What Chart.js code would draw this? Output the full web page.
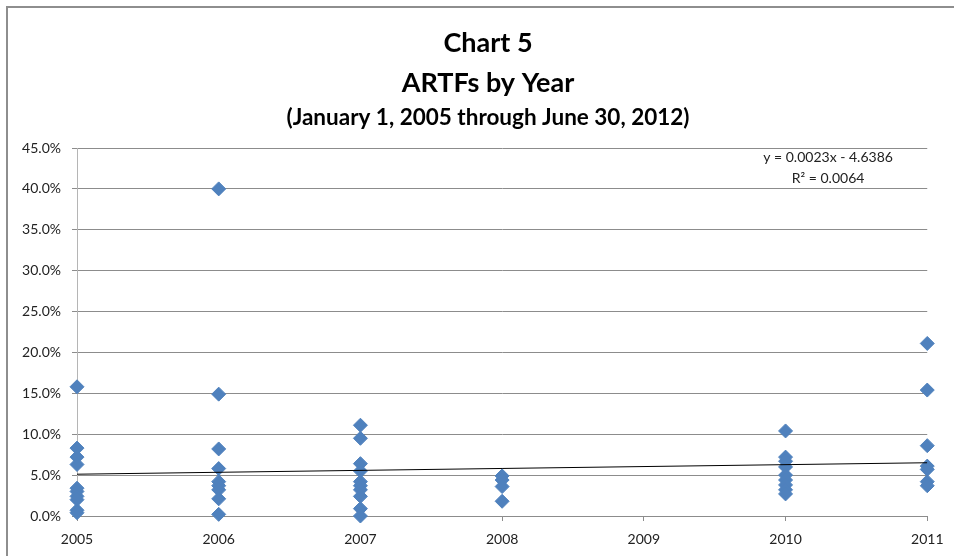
<!DOCTYPE html>
<html>
<head>
<meta charset="utf-8">
<title>Chart 5 - ARTFs by Year</title>
<script src="https://cdn.jsdelivr.net/npm/chart.js@4.4.1/dist/chart.umd.min.js"></script>
<style>
  html, body { margin: 0; padding: 0; background: #fff; overflow: hidden; }
  #frame { position: absolute; left: 6px; top: 6px; width: 1000px; height: 600px; border: 2px solid #8e8e8e; }
  #stock_chart { position: absolute; left: 0; top: 0; }
</style>
</head>
<body>
<div id="frame"></div>
<canvas id="stock_chart" width="954" height="556"></canvas>
<script>
// chart data (percent)
const years = [2005, 2006, 2007, 2008, 2009, 2010, 2011];
const artf2005 = [15.8, 8.3, 7.2, 6.3, 3.4, 3.0, 2.4, 2.0, 0.7, 0.4];
const artf2006 = [40.0, 14.9, 8.2, 5.8, 4.2, 3.7, 3.2, 2.1, 0.2];
const artf2007 = [11.1, 9.5, 6.4, 5.5, 4.2, 3.7, 3.2, 2.4, 0.9, 0.0];
const artf2008 = [4.9, 4.4, 3.6, 1.8];
const artf2009 = [];
const artf2010 = [10.4, 7.2, 6.7, 6.0, 5.0, 4.4, 3.8, 3.2, 2.7];
const artf2011 = [21.1, 15.4, 8.6, 6.1, 5.7, 4.2, 3.7];
const yTicks = [0, 5, 10, 15, 20, 25, 30, 35, 40, 45];

// excel linear trendline (x = year, y = fraction)
const trendSlope = 0.002339;
const trendIntercept = -4.6386;
const trendLabel = ['y = 0.0023x - 4.6386', 'R\u00b2 = 0.0064'];

const artfByYear = [artf2005, artf2006, artf2007, artf2008, artf2009, artf2010, artf2011];
const points = years.flatMap((yr, i) => artfByYear[i].map((v) => ({ x: yr, y: v })));
const trend = [years[0], years[years.length - 1]].map((yr) => ({ x: yr, y: (trendSlope * yr + trendIntercept) * 100 }));

const FONT = 'Lato, "Liberation Sans", sans-serif';
const BLUE = '#4f81bd';
const GRID = '#8c8c8c';

// draws the trendline equation like excel does
const trendText = {
    id: 'trendText',
    afterDatasetsDraw(chart) {
        const { ctx, scales: { x, y } } = chart;
        ctx.save();
        ctx.font = '14px ' + FONT;
        ctx.fillStyle = '#222';
        ctx.textAlign = 'center';
        ctx.textBaseline = 'middle';
        const cx = x.getPixelForValue(2010.3);
        ctx.fillText(trendLabel[0], cx, y.getPixelForValue(43.9));
        ctx.fillText(trendLabel[1], cx, y.getPixelForValue(41.3));
        ctx.restore();
    }
};

// excel centres the titles a bit right of the canvas middle
const titleShift = {
    id: 'titleShift',
    afterLayout(chart) {
        const TitleEl = Chart.Title && Chart.Title._element;
        if (!TitleEl) return;
        chart.boxes.filter((b) => b instanceof TitleEl).forEach((b) => {
            b.left += 6;
            b.right += 6;
        });
    }
};

new Chart(document.getElementById('stock_chart').getContext('2d'), {
    type: 'scatter',
    data: {
        datasets: [{
            label: 'Linear (ARTFs)',
            data: trend,
            showLine: true,
            borderColor: '#000',
            borderWidth: 1,
            pointRadius: 0
        }, {
            label: 'ARTFs',
            data: points,
            clip: false,
            pointStyle: 'rectRot',
            pointRadius: 7,
            backgroundColor: BLUE,
            borderColor: BLUE,
            borderWidth: 1
        }]
    },
    options: {
        responsive: false,
        animation: false,
        events: [],
        layout: { padding: { left: 14, right: 4, top: 23, bottom: 0 } },
        plugins: {
            legend: { display: false },
            tooltip: { enabled: false },
            title: {
                display: true,
                text: ['Chart 5', 'ARTFs by Year'],
                color: '#000',
                font: { family: FONT, size: 27, weight: 'bold', lineHeight: 40 / 27 },
                padding: 0
            },
            subtitle: {
                display: true,
                text: '(January 1, 2005 through June 30, 2012)',
                color: '#000',
                font: { family: FONT, size: 22.5, weight: 'bold', lineHeight: 1.2 },
                padding: { top: 1.5, bottom: 16.5 }
            }
        },
        scales: {
            x: {
                type: 'linear',
                min: years[0],
                max: years[years.length - 1],
                afterBuildTicks: (scale) => { scale.ticks = years.map((v) => ({ value: v })); },
                afterFit: (scale) => { scale.height = 40; },
                ticks: {
                    color: '#222',
                    font: { family: FONT, size: 14 },
                    padding: 10.5,
                    maxRotation: 0,
                    callback: (v) => String(v)
                },
                grid: { drawOnChartArea: false, color: GRID, tickLength: 5 },
                border: { color: GRID }
            },
            y: {
                min: 0,
                max: 45,
                afterBuildTicks: (scale) => { scale.ticks = yTicks.map((v) => ({ value: v })); },
                afterFit: (scale) => { scale.width = 63; },
                ticks: {
                    color: '#222',
                    font: { family: FONT, size: 14 },
                    padding: 11,
                    callback: (v) => v.toFixed(1) + '%'
                },
                grid: { color: GRID, tickLength: 5 },
                border: { color: '#b5b5b5' }
            }
        }
    },
    plugins: [trendText, titleShift]
});
</script>
</body>
</html>
